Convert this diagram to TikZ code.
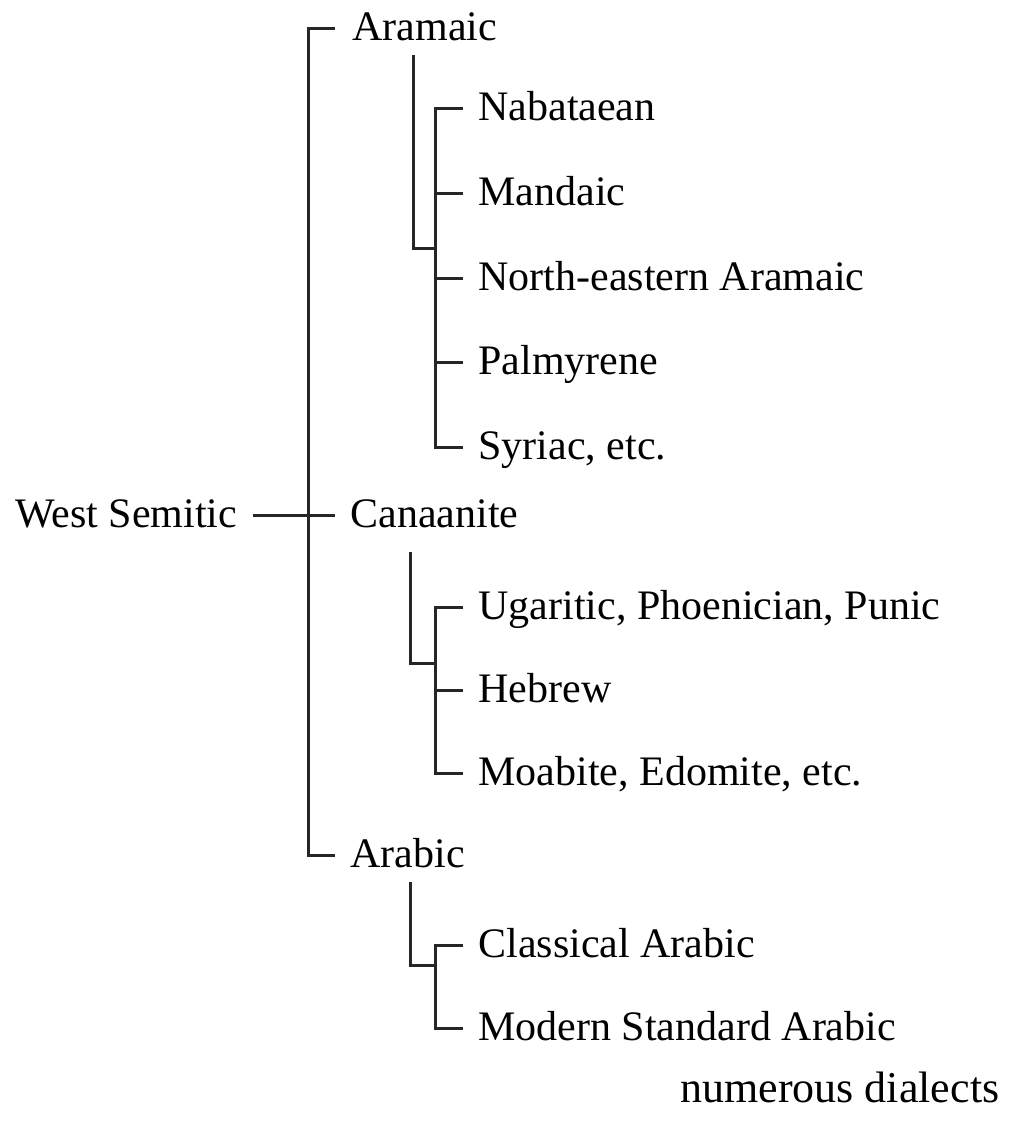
\documentclass[tikz,border=0pt]{standalone}
\usepackage{fontspec}
\setmainfont{Liberation Serif}
\usetikzlibrary{calc,positioning}
\tikzset{
  wire/.style={line width=1.5pt, draw=black!85},
  lang/.style={anchor=west, inner sep=0pt, text height=13pt, text depth=0.8pt,
    font=\fontsize{21}{25}\selectfont},
}

\begin{document}
\begin{tikzpicture}[x=0.5pt,y=-0.5pt]
  \useasboundingbox (0,0) rectangle (1014,1125);
  % top level
  \node[lang] (ws) at (15,515) {West Semitic};
  \node[lang] (aram) at (352,28) {Aramaic};
  \node[lang] (canaan) at (350,515) {Canaanite};
  \node[lang] (arab) at (350,855) {Arabic};
  \coordinate (trunk) at (308,515);
  \draw[wire] ($(aram.west)+(-17,0)$) -| (trunk) |- ($(arab.west)+(-15,0)$);
  \draw[wire] ($(ws.east)+(15,0)$) -- ($(canaan.west)+(-15,0)$);
  % Aramaic
  \node[lang] (nab) at (478,108) {Nabataean};
  \node[lang] (mand) at (478,193) {Mandaic};
  \node[lang] (nea) at (478,278) {North-eastern Aramaic};
  \node[lang] (palm) at (478,362) {Palmyrene};
  \node[lang] (syr) at (478,447) {Syriac, etc.};
  \coordinate (aramdrop) at (413,55);
  \coordinate (aramjoin) at (435,248);
  \draw[wire] (aramdrop) |- (aramjoin);
  \draw[wire] ($(nab.west)+(-15,0)$) -| (aramjoin) |- ($(syr.west)+(-15,0)$);
  \foreach \n in {mand,nea,palm}
    \draw[wire] (\n.west -| aramjoin) -- ($(\n.west)+(-15,0)$);
  % Canaanite
  \node[lang] (ugar) at (478,607) {Ugaritic, Phoenician, Punic};
  \node[lang] (heb) at (478,690) {Hebrew};
  \node[lang] (moab) at (478,773) {Moabite, Edomite, etc.};
  \coordinate (candrop) at (410,552);
  \coordinate (canjoin) at (435,663);
  \draw[wire] (candrop) |- (canjoin);
  \draw[wire] ($(ugar.west)+(-15,0)$) -| (canjoin) |- ($(moab.west)+(-15,0)$);
  \draw[wire] (heb.west -| canjoin) -- ($(heb.west)+(-15,0)$);
  % Arabic
  \node[lang] (class) at (478,945) {Classical Arabic};
  \node[lang] (msa) at (478,1028) {Modern Standard Arabic};
  \node[lang,font=\fontsize{22}{26}\selectfont] (dial) at (680,1090) {numerous dialects};
  \coordinate (arabdrop) at (410,882);
  \coordinate (arabjoin) at (435,965);
  \draw[wire] (arabdrop) |- (arabjoin);
  \draw[wire] ($(class.west)+(-15,0)$) -| (arabjoin) |- ($(msa.west)+(-15,0)$);
\end{tikzpicture}
\end{document}
